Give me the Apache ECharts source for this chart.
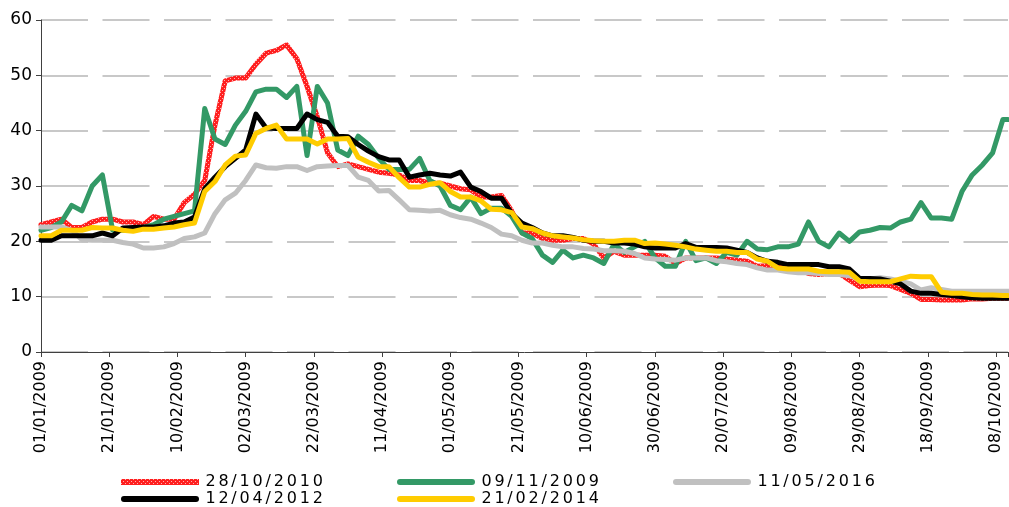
<!DOCTYPE html>
<html>
<head>
<meta charset="utf-8">
<script src="https://cdn.jsdelivr.net/npm/echarts@6/dist/echarts.min.js"></script>
<style>
  html, body { margin: 0; padding: 0; background: #fff; }
  #chart { width: 1009px; height: 507px; }
</style>
</head>
<body>
<div id="chart"></div>
<script>
// day offsets from 01/01/2009 (read every 3 days)
const days = [0, 3, 6, 9, 12, 15, 18, 21, 24, 27, 30, 33, 36, 39, 42, 45, 48, 51, 54, 57,
  60, 63, 66, 69, 72, 75, 78, 81, 84, 87, 90, 93, 96, 99, 102, 105, 108, 111, 114, 117,
  120, 123, 126, 129, 132, 135, 138, 141, 144, 147, 150, 153, 156, 159, 162, 165, 168, 171, 174, 177,
  180, 183, 186, 189, 192, 195, 198, 201, 204, 207, 210, 213, 216, 219, 222, 225, 228, 231, 234, 237,
  240, 243, 246, 249, 252, 255, 258, 261, 264, 267, 270, 273, 276, 279, 282, 283.5]

const seriesNames = ['28/10/2010', '09/11/2009', '11/05/2016', '12/04/2012', '21/02/2014']

const red2010 = [23, 23.5, 24, 22.5, 22.5, 23.5, 24, 24, 23.5, 23.5, 23, 24.5, 24, 24, 27, 28.5, 31, 41, 49, 49.5,
  49.5, 52, 54, 54.5, 55.5, 53, 48, 42.5, 36, 33.5, 34, 33.5, 33, 32.5, 32.3, 32, 31, 31, 30.5, 30.5,
  30, 29.5, 29.3, 28, 28, 28.3, 25.5, 21.5, 21.5, 20.5, 20.2, 20.2, 20.5, 20.5, 19.5, 17, 18.2, 17.5, 17.5, 17.5,
  17.5, 17.3, 16, 17, 17, 17, 17, 16.8, 16.6, 16.4, 15.5, 15.6, 15.4, 15.4, 15, 14.2, 14, 14.2, 14.2, 13,
  11.8, 12, 12.1, 12, 11.3, 10.6, 9.5, 9.5, 9.4, 9.4, 9.4, 9.6, 9.6, 9.7, 9.7, 9.7]

const green2009 = [22, 22.5, 23.5, 26.5, 25.5, 30, 32, 22, 22, 22, 22.5, 23, 24, 24.5, 25, 25.5, 44, 38.5, 37.5, 41,
  43.5, 47, 47.5, 47.5, 46, 48, 35.5, 48, 45, 36.5, 35.5, 39, 37.5, 35, 33, 33, 33, 35, 31, 30,
  26.5, 25.7, 28, 25, 26, 26, 24.5, 21.5, 20.5, 17.5, 16.2, 18.4, 17, 17.5, 17, 16, 19.5, 18, 19, 20,
  17, 15.5, 15.5, 20, 16.5, 17, 16, 18, 17.5, 20, 18.6, 18.5, 19, 19, 19.5, 23.5, 20, 19, 21.5, 20,
  21.7, 22, 22.5, 22.4, 23.5, 24, 27, 24.2, 24.2, 24, 29, 32, 33.8, 36, 42, 42]

const gray2016 = [22.6, 22.6, 22.6, 22, 20.3, 20.2, 20.2, 20.2, 19.8, 19.5, 18.8, 18.8, 19, 19.6, 20.5, 20.8, 21.5, 25, 27.5, 28.7,
  31, 33.8, 33.3, 33.2, 33.5, 33.5, 32.8, 33.5, 33.6, 33.7, 33.7, 31.6, 31, 29.1, 29.2, 27.5, 25.7, 25.6, 25.5, 25.6,
  24.8, 24.3, 24, 23.3, 22.5, 21.3, 21, 20.2, 19.7, 19.7, 19.3, 19, 19, 18.7, 18.6, 18.3, 18.3, 18.2, 17.8, 17,
  16.8, 16.7, 16.6, 17, 17, 17, 16.5, 16.3, 16, 15.8, 15.2, 14.8, 14.8, 14.5, 14.3, 14.3, 14.2, 14, 14, 13.8,
  13.2, 13.2, 13.4, 13.2, 12.8, 12.3, 11.2, 11.6, 11.3, 11, 11, 11, 11, 11, 11, 11]

const black2012 = [20.2, 20.2, 21, 21, 21, 21, 21.5, 21, 22.4, 22.5, 22.6, 22.6, 22.8, 23.3, 23.5, 24.4, 29.5, 31.6, 33.5, 35,
  36.5, 43, 40.5, 40.4, 40.4, 40.4, 43, 42, 41.5, 39, 38.9, 37.5, 36.3, 35.3, 34.7, 34.7, 31.6, 32, 32.3, 32,
  31.8, 32.5, 29.8, 29, 27.8, 27.8, 25, 23.3, 22.5, 21.5, 21, 21, 20.7, 20.2, 20, 20, 19.7, 19.7, 19.5, 19,
  18.8, 18.8, 18.8, 19.6, 18.9, 18.9, 18.9, 18.8, 18.4, 18, 17, 16.4, 16.2, 15.8, 15.8, 15.8, 15.8, 15.4, 15.4, 15,
  13.3, 13.3, 13.2, 12.8, 12.3, 11, 10.6, 10.6, 10.4, 10.2, 10, 9.8, 9.7, 9.7, 9.7, 9.7]

const yellow2014 = [21, 21, 22, 22, 22, 22.5, 22.4, 22.4, 22, 21.8, 22.2, 22.2, 22.4, 22.6, 23, 23.3, 29, 30.8, 33.8, 35.4,
  35.6, 39.5, 40.4, 41, 38.5, 38.5, 38.5, 37.6, 38.5, 38.5, 38.6, 35.2, 34.3, 33.5, 33.5, 31.5, 29.8, 29.8, 30.3, 30.6,
  29, 28, 28, 27.3, 25.8, 25.7, 25.2, 22.6, 22.3, 21.5, 21, 20.8, 20.6, 20.3, 20.1, 20, 20, 20.2, 20.2, 19.6,
  19.7, 19.5, 19.3, 19, 18.6, 18.4, 18.2, 18.2, 18, 18, 16.8, 16.4, 15.2, 15, 15, 15, 14.6, 14.5, 14.5, 14.4,
  12.8, 12.7, 12.7, 12.7, 13.2, 13.7, 13.6, 13.6, 10.8, 10.6, 10.6, 10.4, 10.3, 10.3, 10.2, 10.2]

// y axis ticks
const yTicks = [0, 10, 20, 30, 40, 50, 60]

const startDate = Date.UTC(2009, 0, 1)
const pad = (n) => (n < 10 ? '0' + n : '' + n)
const dayLabel = (d) => {
  if (d % 20 !== 0) return ''
  const dt = new Date(startDate + d * 86400000)
  return `${pad(dt.getUTCDate())}/${pad(dt.getUTCMonth() + 1)}/${dt.getUTCFullYear()}`
}

// red dotted fill like the excel pattern
const makeRedPattern = () => {
  const c = document.createElement('canvas')
  c.width = 4
  c.height = 4
  const ctx = c.getContext('2d')
  ctx.fillStyle = '#ff1f1f'
  ctx.fillRect(0, 0, 4, 4)
  ctx.fillStyle = '#ffb0b0'
  ctx.fillRect(0, 0, 1, 1)
  ctx.fillRect(2, 2, 1, 1)
  return c
}
const redPattern = { image: makeRedPattern(), repeat: 'repeat' }

const colors = [redPattern, '#339966', '#c0c0c0', '#000000', '#ffcc00']
const values = [red2010, green2009, gray2016, black2012, yellow2014]

const capsule = 'path://M3,0 H75 A3,3 0 0 1 75,6 H3 A3,3 0 0 1 3,0 Z'
const legendItem = (i) => ({ name: seriesNames[i], icon: i === 0 ? 'rect' : capsule })

// the legend text is spaced out a little, one token per character
const spaced = (name) => name.split('').map((c) => `{s|${c}}`).join('')

const legendBase = {
  left: 116,
  itemWidth: 78,
  itemHeight: 6,
  itemGap: 0,
  itemTextGap: 6,
  selectedMode: false,
  itemStyle: { borderWidth: 0 },
  formatter: spaced,
  textStyle: {
    fontFamily: 'DejaVu Sans', fontSize: 16, color: '#000', width: 193, lineHeight: 16,
    rich: { s: { fontFamily: 'DejaVu Sans', fontSize: 16, color: '#000', lineHeight: 16, padding: [0, 1.4, 0, 1.4] } },
  },
}

const chart = echarts.init(document.getElementById('chart'), null, { renderer: 'canvas' })
const option = {
  animation: false,
  backgroundColor: '#fff',
  grid: { left: 41, right: 1, top: 20, bottom: 155, containLabel: false },
  legend: [
    { ...legendBase, top: 469, data: [0, 1, 2].map(legendItem) },
    { ...legendBase, top: 486, data: [3, 4].map(legendItem) },
  ],
  xAxis: {
    type: 'value',
    min: 0,
    max: 283.5,
    interval: 20,
    splitLine: { show: false },
    axisLine: { lineStyle: { color: '#404040', width: 1 } },
    axisTick: { length: 5, lineStyle: { color: '#404040' } },
    axisLabel: {
      rotate: 90,
      margin: 9,
      fontFamily: 'DejaVu Sans',
      fontSize: 16,
      color: '#000',
      formatter: dayLabel,
    },
  },
  yAxis: {
    type: 'value',
    min: yTicks[0],
    max: yTicks[yTicks.length - 1],
    interval: 10,
    axisLine: { show: true, lineStyle: { color: '#404040', width: 1 } },
    axisTick: { show: true, length: 5, lineStyle: { color: '#404040' } },
    splitLine: { lineStyle: { color: '#c8c8c8', width: 2, type: [47, 14.5] } },
    axisLabel: { margin: 9, fontFamily: 'DejaVu Sans', fontSize: 17, color: '#000' },
  },
  series: seriesNames.map((name, i) => ({
    name,
    type: 'line',
    symbol: 'none',
    showSymbol: false,
    color: colors[i],
    lineStyle: { color: colors[i], width: 5, join: 'round', cap: 'round' },
    data: days.map((d, k) => [d, values[i][k]]),
  })),
}
chart.setOption(option)
</script>
</body>
</html>
